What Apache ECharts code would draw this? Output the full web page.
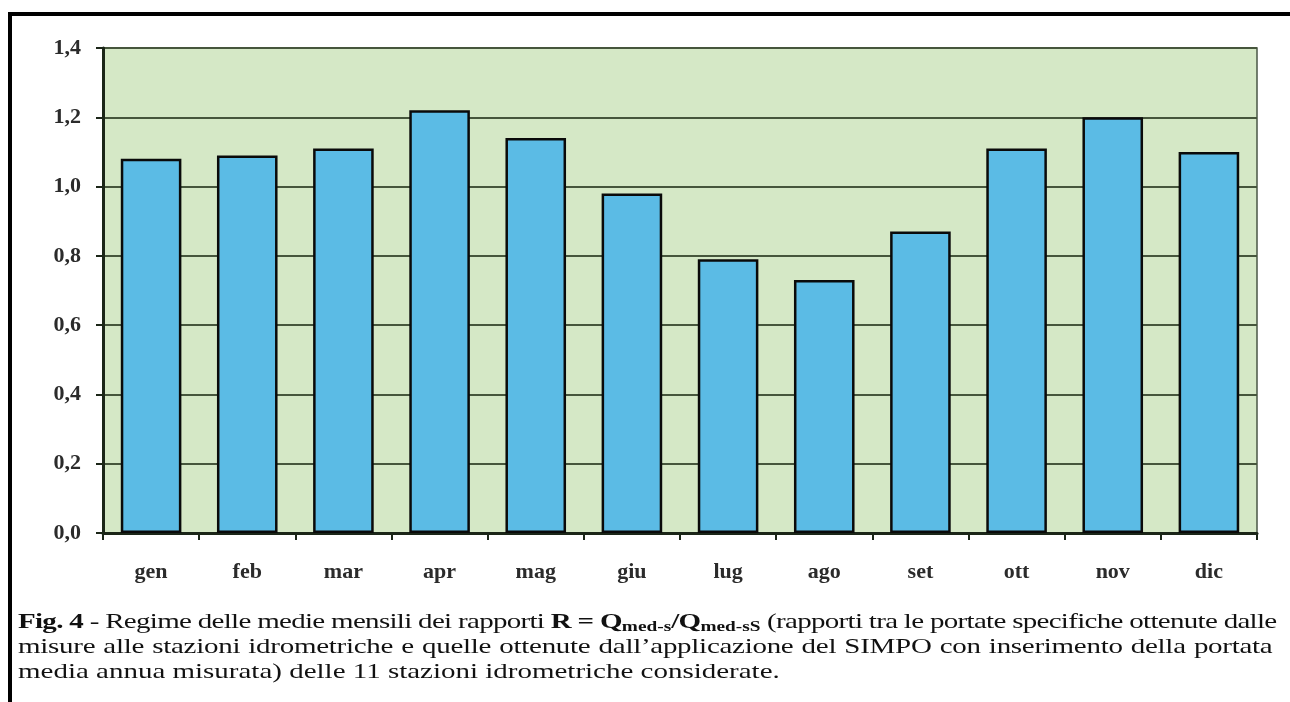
<!DOCTYPE html>
<html>
<head>
<meta charset="utf-8">
<script src="https://cdn.jsdelivr.net/npm/echarts@6/dist/echarts.min.js"></script>
<style>
  html, body { margin: 0; padding: 0; background: #fff; }
  #chart { width: 1290px; height: 702px; }
  /* la didascalia dell'originale e' stirata in orizzontale */
  .caption {
    position: absolute; left: 18px; top: 609px; width: 909px;
    transform: scaleX(1.38); transform-origin: 0 0;
    font-family: "Liberation Serif", "Times New Roman", serif;
    font-size: 21px; line-height: 25px; color: #111;
  }
  .caption div { white-space: nowrap; text-align: left; }
  .caption .j { text-align: justify; text-align-last: justify; }
  .caption .l1 { letter-spacing: -0.5px; }
  .caption .l2 { letter-spacing: -0.2px; }
  .caption b { font-weight: bold; }
  .caption sub { font-size: 14px; vertical-align: -3px; line-height: 0; letter-spacing: 0; }
</style>
</head>
<body>
<div id="chart"></div>
<div class="caption">
  <div class="j l1"><b>Fig. 4</b> - Regime delle medie mensili dei rapporti <b>R = Q<sub>med-s</sub>/Q<sub>med-sS</sub></b> (rapporti tra le portate specifiche ottenute dalle</div>
  <div class="j l2">misure alle stazioni idrometriche e quelle ottenute dall’applicazione del SIMPO con inserimento della portata</div>
  <div>media annua misurata) delle 11 stazioni idrometriche considerate.</div>
</div>
<script>
// mesi e rapporti R
var months = ['gen', 'feb', 'mar', 'apr', 'mag', 'giu', 'lug', 'ago', 'set', 'ott', 'nov', 'dic'];
var ratios = [1.08, 1.09, 1.11, 1.22, 1.14, 0.98, 0.79, 0.73, 0.87, 1.11, 1.20, 1.10];

var myChart = echarts.init(document.getElementById('chart'));
var serif = '"Liberation Serif", "Times New Roman", serif';

var option = {
  backgroundColor: '#ffffff',
  animation: false,
  grid: {
    left: 103, right: 33, top: 48, bottom: 169,
    show: true,
    backgroundColor: '#d5e8c6',
    borderColor: '#4a5545',
    borderWidth: 1.5
  },
  // cornice della figura
  graphic: [
    { type: 'line', shape: { x1: 8, y1: 14, x2: 1290, y2: 14 }, style: { stroke: '#000', lineWidth: 4 } },
    { type: 'line', shape: { x1: 10, y1: 12, x2: 10, y2: 702 }, style: { stroke: '#000', lineWidth: 4 } }
  ],
  xAxis: {
    type: 'category',
    data: months,
    axisLine: { lineStyle: { color: '#1b2618', width: 3 } },
    axisTick: { show: true, length: 7, lineStyle: { color: '#1b2618', width: 2 } },
    axisLabel: {
      margin: 28,
      fontFamily: serif, fontWeight: 'bold', fontSize: 22, color: '#2b2b2b'
    }
  },
  yAxis: {
    type: 'value',
    min: 0, max: 1.4, interval: 0.2,
    axisLine: { show: true, lineStyle: { color: '#1b2618', width: 3 } },
    axisTick: { show: true, length: 7, lineStyle: { color: '#1b2618', width: 2 } },
    splitLine: { lineStyle: { color: '#46563c', width: 2 } },
    axisLabel: {
      margin: 22,
      fontFamily: serif, fontWeight: 'bold', fontSize: 22, color: '#2b2b2b',
      formatter: function (v) { return v.toFixed(1).replace('.', ','); }
    }
  },
  series: [{
    type: 'bar',
    data: ratios,
    barCategoryGap: '37%',
    itemStyle: { color: '#5bbbe5', borderColor: '#0a0a0a', borderWidth: 2.5 }
  }]
};
myChart.setOption(option);
</script>
</body>
</html>
